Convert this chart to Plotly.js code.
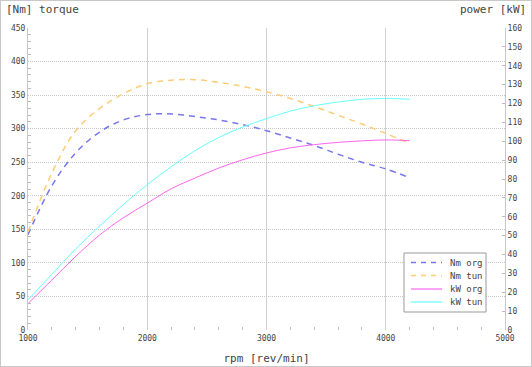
<!DOCTYPE html>
<html><head><meta charset="utf-8">
<script src="https://cdn.plot.ly/plotly-3.0.1.min.js"></script>
<style>
html,body{margin:0;padding:0;background:#fff;}
#wrap{width:532px;height:367px;box-sizing:border-box;border:1px solid #c8c8c8;}
#chart{width:530px;height:365px;}
</style></head>
<body><div id="wrap"><div id="chart"></div></div>
<script>
const rpm = [1000,1200,1400,1600,1800,2000,2200,2400,2600,2800,3000,3200,3400,3600,3800,4000,4200];
const nmOrg = [142,215,264,295,313,321,322,318,313,306,297,286,275,262,250,240,227];
const nmTun = [146,234,297,330,352,367,372,373,369,363,355,345,333,320,307,293,278];
const kwOrg = [14,26.5,39,50.3,59.5,67.2,74.8,80.5,85.8,90.2,93.8,96.5,98.2,99.4,100.2,100.7,100.3];
const kwTun = [16,29.5,43,55,66.5,77,86.5,95,102,107.5,112,116,118.8,120.8,122.2,122.7,122.2];
const seriesNames = ['Nm org','Nm tun','kW org','kW tun'];
const seriesColors = ['#7777ee','#ffcc77','#ff66ee','#66ffff'];
const seriesDash = ['6px,5px','6px,5px','solid','solid'];
const seriesWidth = [1.5,1.5,1,1];

const mono = 'DejaVu Sans Mono, monospace';
const ys = [nmOrg, nmTun, kwOrg, kwTun];
const axes = ['y','y','y2','y2'];
const traces = ys.map((v,i)=>({x: rpm, y: v, name: seriesNames[i], mode:'lines', showlegend:false,
  line:{color:seriesColors[i], width:seriesWidth[i], dash:seriesDash[i], shape:'spline'}, yaxis:axes[i]}));

// plot area geometry (image pixels) for legend placement
const L=27, T=27, W=530, H=365, R=26, B=36;
const pw = W-L-R, ph = H-T-B;
const px = x => (x-1-L)/pw;
const py = y => 1-(y-1-T)/ph;

const shapes = [
  {type:'rect', xref:'paper', yref:'paper', x0:px(404), x1:px(486), y0:py(253), y1:py(312),
   fillcolor:'#fff', line:{color:'#999', width:1}, layer:'above'}
];
const annotations = [
  {text:'[Nm] torque', xref:'paper', yref:'paper', x:px(4), y:py(10), xanchor:'left', yanchor:'middle', showarrow:false,
   font:{family:mono, size:11, color:'#444'}},
  {text:'power [kW]', xref:'paper', yref:'paper', x:px(528), y:py(10), xanchor:'right', yanchor:'middle', showarrow:false,
   font:{family:mono, size:11, color:'#444'}}
];
const legY = [262.5, 275.5, 289, 302];
seriesNames.forEach((n,i)=>{
  shapes.push({type:'line', xref:'paper', yref:'paper', x0:px(411), x1:px(442), y0:py(legY[i]), y1:py(legY[i]),
    line:{color:seriesColors[i], width:seriesWidth[i]+0.2, dash: i<2 ? '5px,5px' : 'solid'}, layer:'above'});
  annotations.push({text:n, xref:'paper', yref:'paper', x:px(448), y:py(legY[i]), xanchor:'left', yanchor:'middle',
    showarrow:false, font:{family:mono, size:9, color:'#444'}});
});

const layout = {
  width:W, height:H,
  margin:{l:L, r:R, t:T, b:B, pad:0},
  paper_bgcolor:'#fff', plot_bgcolor:'#fff',
  showlegend:false,
  xaxis:{range:[1000,5000], dtick:1000, tick0:1000, showgrid:true, gridcolor:'#d0d0d0', gridwidth:1,
    zeroline:false, showline:false, ticks:'', tickfont:{family:mono, size:8, color:'#444'}, ticklabelstandoff:2,
    minor:{dtick:200, ticks:'inside', ticklen:3, tickcolor:'#bbb', showgrid:false},
    title:{text:'rpm [rev/min]', font:{family:mono, size:11, color:'#444'}, standoff:12}},
  yaxis:{range:[0,450], dtick:50, showgrid:true, gridcolor:'#c8c8c8', griddash:'1px,1px', gridwidth:1,
    zeroline:false, showline:true, linecolor:'#c8c8c8', ticks:'', tickfont:{family:mono, size:8, color:'#444'},
    minor:{dtick:10, ticks:'inside', ticklen:3, tickcolor:'#bbb', showgrid:false}},
  yaxis2:{range:[0,160], dtick:10, overlaying:'y', side:'right', showgrid:false, zeroline:false,
    showline:true, linecolor:'#c8c8c8', ticks:'inside', ticklen:3, tickcolor:'#bbb',
    tickfont:{family:mono, size:8, color:'#444'}},
  shapes: shapes,
  annotations: annotations
};
Plotly.newPlot('chart', traces, layout, {displayModeBar:false, staticPlot:true});
</script></body></html>
